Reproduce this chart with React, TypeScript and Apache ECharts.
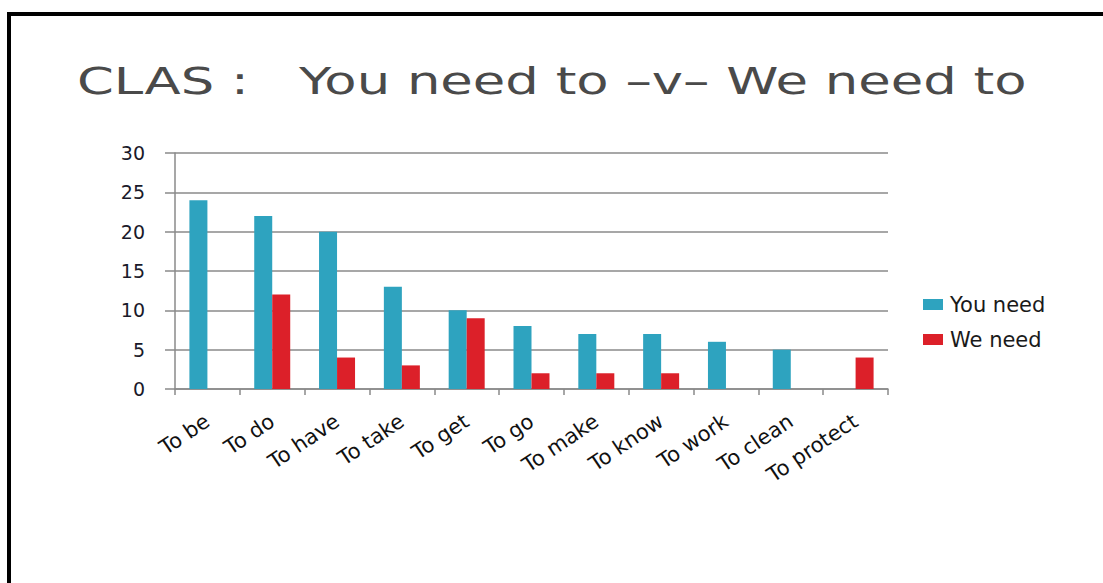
import React, { useEffect, useRef } from "react";
import * as echarts from "echarts";

const categories = ["To be", "To do", "To have", "To take", "To get", "To go", "To make", "To know", "To work", "To clean", "To protect"];
const youNeed = [24, 22, 20, 13, 10, 8, 7, 7, 6, 5, 0];
const weNeed = [0, 12, 4, 3, 9, 2, 2, 2, 0, 0, 4];
const yTicks = { min: 0, max: 30, interval: 5 };
const titleText = "CLAS :   You need to \u2013v\u2013 We need to";

export default function App() {
  const ref = useRef<HTMLDivElement>(null);
  useEffect(() => {
    const chart = echarts.init(ref.current!, null, { renderer: "svg" });
    const font = "DejaVu Sans";
    chart.setOption({
      animation: false,
      backgroundColor: "#ffffff",
      legend: {
        orient: "vertical",
        left: 918,
        top: 289,
        itemWidth: 20,
        itemHeight: 11,
        itemGap: 14,
        icon: "rect",
        textStyle: { fontFamily: font, fontSize: 21, color: "#1a1a1a", padding: [0, 0, 0, 2] },
        data: ["You need", "We need"],
      },
      grid: { left: 175, right: 215, top: 153, bottom: 194, containLabel: false },
      xAxis: {
        type: "category",
        data: categories,
        axisLine: { lineStyle: { color: "#8a8a8a", width: 1.5 } },
        axisTick: { show: true, length: 6, lineStyle: { color: "#8a8a8a", width: 1.5 } },
        axisLabel: { rotate: 34, fontFamily: font, fontSize: 21, color: "#111", margin: 30, interval: 0 },
      },
      yAxis: {
        type: "value",
        min: yTicks.min,
        max: yTicks.max,
        interval: yTicks.interval,
        axisLine: { show: true, lineStyle: { color: "#8a8a8a", width: 1.5 } },
        axisTick: { show: true, length: 10, lineStyle: { color: "#8a8a8a", width: 1.5 } },
        splitLine: { lineStyle: { color: "#8a8a8a", width: 1.5 } },
        axisLabel: { fontFamily: font, fontSize: 19, color: "#1a1a2a", margin: 30 },
      },
      series: [
        {
          name: "You need",
          type: "bar",
          data: youNeed,
          barWidth: 18,
          barGap: "0%",
          itemStyle: { color: "#2ea3bf" },
        },
        {
          name: "We need",
          type: "bar",
          data: weNeed,
          barWidth: 18,
          barGap: "0%",
          itemStyle: { color: "#dc2029" },
        },
      ],
      graphic: [
        { type: "rect", shape: { x: 7, y: 12, width: 1096, height: 4 }, style: { fill: "#000" } },
        { type: "rect", shape: { x: 7, y: 12, width: 4, height: 571 }, style: { fill: "#000" } },
        {
          type: "text",
          x: 77,
          y: 62,
          scaleX: 1.39,
          style: {
            text: titleText,
            fontFamily: font,
            fontSize: 38,
            fill: "#4a4a4a",
            verticalAlign: "top",
            align: "left",
          },
        },
      ],
    });
    return () => chart.dispose();
  }, []);
  return <div ref={ref} style={{ position: "fixed", left: 0, top: 0, width: 1103, height: 583 }} />;
}
